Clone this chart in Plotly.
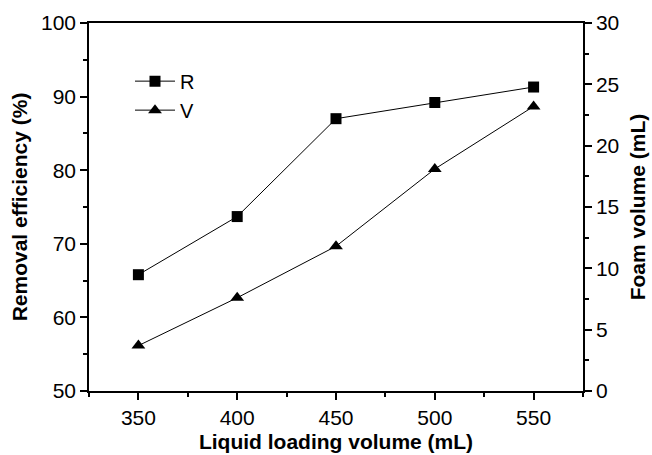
import plotly.graph_objects as go

loading = [350, 400, 450, 500, 550]
removal_R = [65.8, 73.7, 87.0, 89.2, 91.3]
foam_V = [3.7, 7.6, 11.8, 18.1, 23.2]

FONT = "Liberation Sans, Arial, sans-serif"

fig = go.Figure()
fig.add_trace(go.Scatter(
    x=loading, y=removal_R, name="R", mode="lines+markers",
    line=dict(color="black", width=1),
    marker=dict(symbol="square", size=11, color="black"),
))
fig.add_trace(go.Scatter(
    x=loading, y=foam_V, name="V", mode="lines+markers", yaxis="y2",
    line=dict(color="black", width=1),
    marker=dict(symbol="triangle-up", size=12, color="black"),
))

axis_common = dict(
    showgrid=False, zeroline=False, showline=True, linecolor="black", linewidth=1.5,
    ticks="outside", ticklen=7, tickwidth=1.5, tickcolor="black",
    tickfont=dict(family=FONT, size=21, color="black"), automargin=False,
)
title_font = dict(family=FONT, size=21, color="black")

fig.update_layout(
    width=652, height=455,
    margin=dict(l=89, r=69, t=23, b=64),
    paper_bgcolor="white", plot_bgcolor="white",
    showlegend=True,
    legend=dict(x=0.083, y=0.895, xanchor="left", yanchor="top",
                bgcolor="rgba(0,0,0,0)", font=dict(family=FONT, size=20, color="black"),
                tracegroupgap=0, itemwidth=40),
    xaxis=dict(
        range=[325, 575], tickmode="array", tickvals=loading, mirror=True,
        minor=dict(dtick=25, tick0=325, ticks="outside", ticklen=4, tickwidth=1.5, tickcolor="black"),
        title=dict(text="<b>Liquid loading volume (mL)</b>", font=title_font, standoff=6),
        **axis_common,
    ),
    yaxis=dict(
        range=[50, 100], dtick=10, tick0=50,
        minor=dict(dtick=5, ticks="outside", ticklen=4, tickwidth=1.5, tickcolor="black"),
        title=dict(text="<b>Removal efficiency (%)</b>", font=title_font, standoff=8),
        **axis_common,
    ),
    yaxis2=dict(
        range=[0, 30], dtick=5, tick0=0, overlaying="y", side="right",
        minor=dict(dtick=2.5, ticks="outside", ticklen=4, tickwidth=1.5, tickcolor="black"),
        title=dict(text="<b>Foam volume (mL)</b>", font=title_font, standoff=12),
        **axis_common,
    ),
)

fig.write_html("out.html", config={"displayModeBar": False},
               post_script="document.body.style.margin='0';")
